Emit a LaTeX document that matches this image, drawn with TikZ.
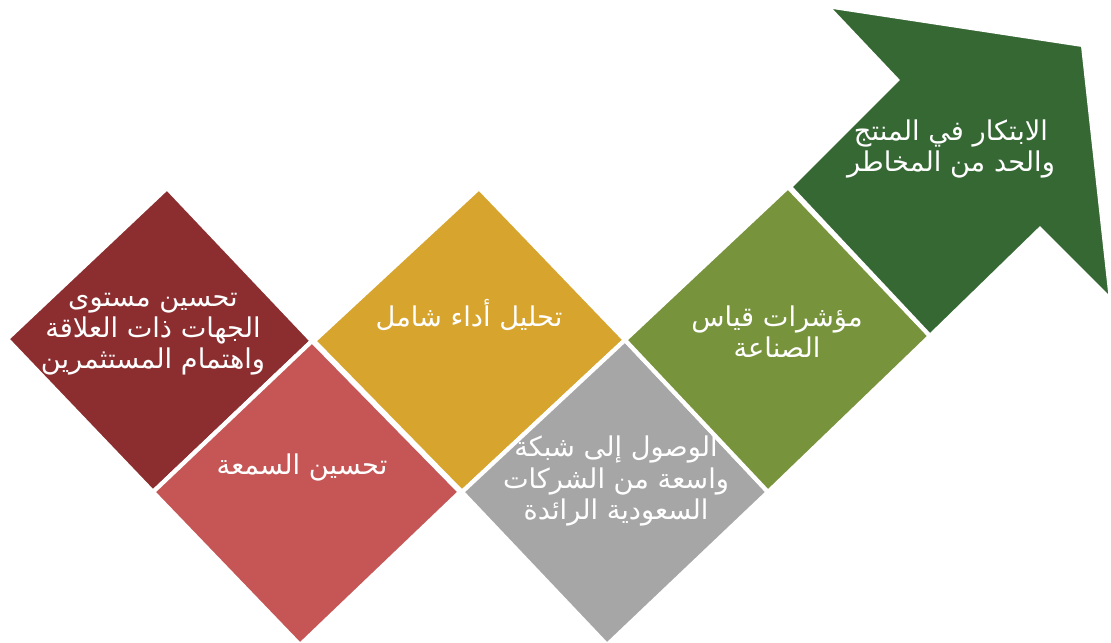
\documentclass[tikz,border=0pt]{standalone}
\usepackage{fontspec}
\newfontfamily\arabicfont[Script=Arabic]{DejaVu Sans}
\TeXXeTstate=1
\definecolor{tileRedDark}{HTML}{8C2E30}
\definecolor{tileRed}{HTML}{C65555}
\definecolor{tileGold}{HTML}{D7A42D}
\definecolor{tileGray}{HTML}{A6A6A6}
\definecolor{tileOlive}{HTML}{77933C}
\definecolor{arrowGreen}{HTML}{366834}
\begin{document}
\begin{tikzpicture}[x=0.02cm,y=-0.02cm,
    diamondtile/.style={draw=white,line width=2.4pt,line join=miter},
    tiletext/.style={text=white,align=center,font=\arabicfont\fontsize{15.5}{17.8}\selectfont}]
    \useasboundingbox (0,0) rectangle (1111,642); % picture frame in pixels

    % zigzag of diamonds
    \filldraw[diamondtile,fill=tileRedDark] (167,188) -- (312,341) -- (153,492) -- (7,339) -- cycle;
    \filldraw[diamondtile,fill=tileRed] (312,341) -- (460,492) -- (300,645) -- (153,492) -- cycle;
    \filldraw[diamondtile,fill=tileGold] (479,188) -- (625,340) -- (462,492) -- (314,341) -- cycle;
    \filldraw[diamondtile,fill=tileGray] (625,340) -- (768,492) -- (607,645) -- (462,492) -- cycle;
    \filldraw[diamondtile,fill=tileOlive] (788,187) -- (930,336) -- (768,492) -- (625,340) -- cycle;

    % arrow head
    \filldraw[diamondtile,fill=arrowGreen] (790,187) -- (897,80) -- (827,6) -- (1083,45) -- (1111,300) -- (1040,229) -- (930,336) -- cycle;

    % texts
    \node[tiletext] (relations) at (153,334) {\beginR تحسين مستوى\endR\\\beginR الجهات ذات العلاقة\endR\\\beginR واهتمام المستثمرين\endR};
    \node[tiletext] (reputation) at (302,467) {\beginR تحسين السمعة\endR};
    \node[tiletext] (analysis) at (469,315) {\beginR تحليل أداء شامل\endR};
    \node[tiletext] (network) at (616,481) {\beginR الوصول إلى شبكة\endR\\\beginR واسعة من الشركات\endR\\\beginR السعودية الرائدة\endR};
    \node[tiletext] (indicators) at (777,332) {\beginR مؤشرات قياس\endR\\\beginR الصناعة\endR};
    \node[tiletext] (innovation) at (951,149) {\beginR الابتكار في المنتج\endR\\\beginR والحد من المخاطر\endR};
\end{tikzpicture}
\end{document}
